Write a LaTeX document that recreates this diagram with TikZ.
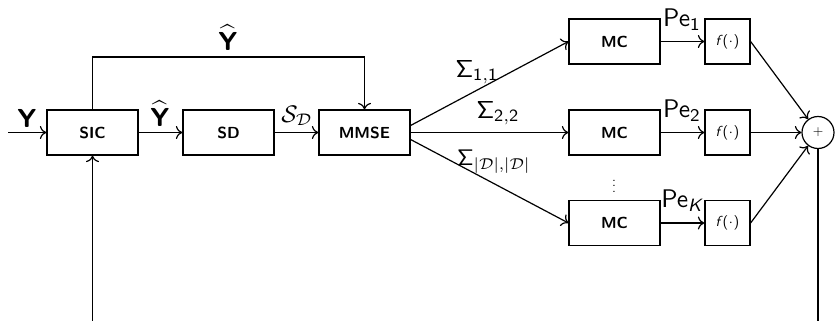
\documentclass[tikz,border=0pt]{standalone}
\usepackage{amsmath}
\usetikzlibrary{arrows.meta,calc}
\begin{document}
\begin{tikzpicture}[x=1pt,y=-1pt, line width=1.2pt,
  blk/.style={draw, minimum width=91pt, minimum height=45pt, inner sep=0pt,
    font=\fontsize{16}{18}\selectfont\sffamily\bfseries},
  fblk/.style={draw, minimum width=45pt, minimum height=45pt, inner sep=0pt,
    font=\sffamily},
  arr/.style={-{To[length=6.5pt,width=13pt]}},
  lab/.style={inner sep=0pt, font=\sffamily},
]
\useasboundingbox (0,0) rectangle (835,321);

\node[blk] (sic) at (92.5,132.5) {SIC};
\node[blk] (sd) at (228.5,132.5) {SD};
\node[blk] (mmse) at (364.5,132.5) {MMSE};
\node[blk] (mc1) at (614.5,41.5) {MC};
\node[blk] (mc2) at (614.5,132.5) {MC};
\node[blk] (mc3) at (614.5,223) {MC};
\node[fblk] (f1) at (727.5,41.5) {\scalebox{1.45}{\itshape f\,\upshape(\kern0.5pt$\cdot$\kern0.5pt)}};
\node[fblk] (f2) at (727.5,132.5) {\scalebox{1.45}{\itshape f\,\upshape(\kern0.5pt$\cdot$\kern0.5pt)}};
\node[fblk] (f3) at (727.5,223) {\scalebox{1.45}{\itshape f\,\upshape(\kern0.5pt$\cdot$\kern0.5pt)}};
\node[draw, circle, minimum size=32pt, inner sep=0pt] (sum) at (818,132.5) {\scalebox{1.35}{$+$}};

\coordinate (in) at (8,132.5);
\coordinate (topL) at (92.5,57);
\coordinate (fbL) at (92.5,321);
\coordinate (fbR) at (818,321);

\draw[arr] (in) -- (sic);
\draw[arr] (sic) -- (sd);
\draw[arr] (sd) -- (mmse);
\draw[arr] (sic.north) -- (topL) -| (mmse.north);
\draw[arr] ($(mmse.east)+(0,-7)$) -- (mc1.west);
\draw[arr] (mmse.east) -- (mc2.west);
\draw[arr] ($(mmse.east)+(0,7)$) -- (mc3.west);
\draw[arr] (mc1) -- (f1);
\draw[arr] (mc2) -- (f2);
\draw[arr] (mc3) -- (f3);
\draw[arr] (f1.east) -- (sum);
\draw[arr] (f2.east) -- (sum);
\draw[arr] (f3.east) -- (sum);
\draw (sum) -- (fbR);
\draw[arr] (fbL) -- (sic.south);

\node[lab] (ly) at (27,118) {\scalebox{2.6}{\bfseries Y}};
\node[lab] (lyh1) at (160,114) {\scalebox{2.6}{$\widehat{\text{\sffamily\bfseries Y}}$}};
\node[lab] (lyh2) at (228,38) {\scalebox{2.6}{$\widehat{\text{\sffamily\bfseries Y}}$}};
\node[lab] (lsd) at (297,116) {\scalebox{2.4}{$\mathcal{S}_{\mathcal{D}}$}};
\node[lab] (ls1) at (477,72) {\scalebox{2.45}{$\mathsf{\Sigma}_{\mathsf{1,1}}$}};
\node[lab] (ls2) at (498,113) {\scalebox{2.45}{$\mathsf{\Sigma}_{\mathsf{2,2}}$}};
\node[lab] (ls3) at (494,162) {\scalebox{2.25}{$\mathsf{\Sigma}_{|\mathcal{D}|,|\mathcal{D}|}$}};
\node[lab] (lp1) at (682,20) {\scalebox{2.55}{$\mathsf{Pe}_{\mathsf{1}}$}};
\node[lab] (lp2) at (682,111) {\scalebox{2.55}{$\mathsf{Pe}_{\mathsf{2}}$}};
\node[lab] (lp3) at (682,201) {\scalebox{2.55}{$\mathsf{Pe}_{\text{\sffamily\itshape K}}$}};
\node[lab] (dots) at (614,182) {\scalebox{1.4}{$\vdots$}};
\end{tikzpicture}
\end{document}
